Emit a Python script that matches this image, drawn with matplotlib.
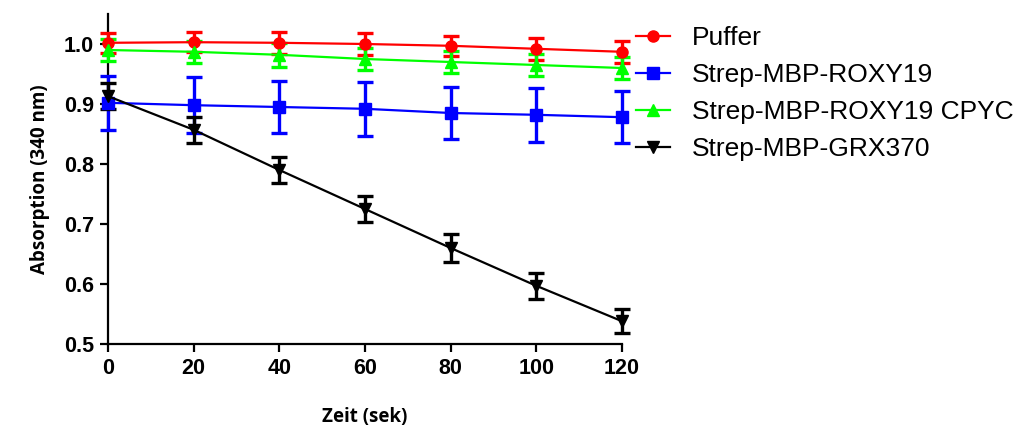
import numpy as np
from matplotlib import pyplot as plt

zeit = [0, 20, 40, 60, 80, 100, 120]

puffer = [1.002, 1.003, 1.002, 1.000, 0.997, 0.992, 0.987]
puffer_err = [0.017, 0.017, 0.018, 0.018, 0.017, 0.018, 0.018]

roxy19 = [0.902, 0.898, 0.895, 0.892, 0.885, 0.882, 0.878]
roxy19_err = [0.045, 0.047, 0.043, 0.045, 0.043, 0.045, 0.043]

cpyc = [0.990, 0.987, 0.982, 0.975, 0.970, 0.965, 0.960]
cpyc_err = [0.018, 0.018, 0.020, 0.019, 0.019, 0.018, 0.018]

grx370 = [0.913, 0.857, 0.790, 0.725, 0.660, 0.597, 0.538]
grx370_err = [0.022, 0.022, 0.022, 0.022, 0.024, 0.022, 0.020]

labels = ['Puffer', 'Strep-MBP-ROXY19', 'Strep-MBP-ROXY19 CPYC', 'Strep-MBP-GRX370']

plt.rcParams['font.family'] = ['Liberation Sans', 'DejaVu Sans']

fig = plt.figure(figsize=(10.23, 4.32), dpi=100)
ax = fig.add_axes([0.1056, 0.2037, 0.5024, 0.7639])

series = [
    (puffer, puffer_err, '#ff0000', 'o', 8),
    (roxy19, roxy19_err, '#0000ff', 's', 8),
    (cpyc, cpyc_err, '#00ff00', '^', 9),
    (grx370, grx370_err, '#000000', 'v', 8),
]

for (vals, errs, col, mk, ms), lab in zip(series, labels):
    ax.errorbar(zeit, vals, yerr=errs, fmt='none', ecolor=col, elinewidth=2.4,
                capsize=6, capthick=2.4, clip_on=False, zorder=3)
    ax.plot(zeit, vals, color=col, marker=mk, markersize=ms, linewidth=1.6,
            label=lab, clip_on=False, zorder=4)

ax.set_xlim(0, 120)
ax.set_ylim(0.5, 1.05)
ax.set_xticks(zeit)
ax.set_yticks([0.5, 0.6, 0.7, 0.8, 0.9, 1.0])
ax.set_yticklabels(['0.5', '0.6', '0.7', '0.8', '0.9', '1.0'])

for side in ['top', 'right']:
    ax.spines[side].set_visible(False)
for side in ['left', 'bottom']:
    ax.spines[side].set_linewidth(1.6)

ax.tick_params(axis='both', direction='out', length=6, width=1.6,
               labelsize=15.5, pad=4)
for t in ax.get_xticklabels() + ax.get_yticklabels():
    t.set_fontweight('bold')

ax.set_xlabel('Zeit (sek)', fontsize=13.5, fontweight='bold', labelpad=20,
              family=['Open Sans', 'DejaVu Sans'])
ax.set_ylabel('Absorption (340 nm)', fontsize=13.5, fontweight='bold', labelpad=10,
              family=['Open Sans', 'DejaVu Sans'])

fig.legend(loc='upper left', bbox_to_anchor=(0.598, 0.995), frameon=False,
           fontsize=19, handlelength=1.3, handletextpad=0.85, labelspacing=0.5)

fig.savefig('out.png', dpi=100)
